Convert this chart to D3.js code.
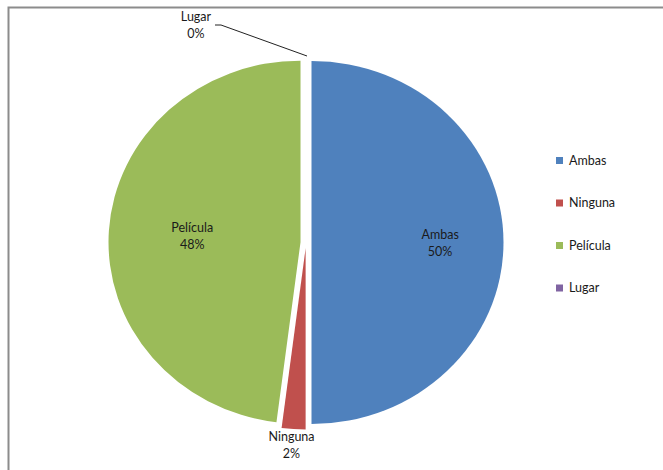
<!DOCTYPE html>
<html><head><meta charset="utf-8">
<script src="https://cdn.jsdelivr.net/npm/d3@7"></script>
<style>body{margin:0;background:#fff}svg{display:block}text{font-family:Lato,"Open Sans",sans-serif;fill:#1a1a1a}</style>
</head><body><svg id="c" width="663" height="470"></svg>
<script>
const categories = ["Ambas", "Ninguna", "Película", "Lugar"];
const values = [50, 2, 48, 0];
const colors = ["#4F81BD", "#C0504D", "#9BBB59", "#8064A2"];

const svg = d3.select("#c");
svg.append("rect").attr("x", 8.5).attr("y", 7.5).attr("width", 700).attr("height", 500)
  .attr("fill", "none").attr("stroke", "#8c8c8c").attr("stroke-width", 2);

const cx = 306, cy = 242.5, rx = 192, ry = 181.5, explode = 5.5;
const sx = rx / ry;
const fs = 12.5;
const data = categories.map((c, i) => ({cat: c, value: values[i], color: colors[i]}));
const pie = d3.pie().value(d => d.value).sort(null);
const arcs = pie(data);
const arc = d3.arc().innerRadius(0).outerRadius(ry);
const total = d3.sum(values);
const pct = v => Math.round(v / total * 100) + "%";

const g = svg.append("g");
arcs.forEach(a => {
  const mid = (a.startAngle + a.endAngle) / 2;
  const ox = Math.sin(mid) * explode, oy = -Math.cos(mid) * explode;
  a.ox = ox; a.oy = oy; a.mid = mid;
  if (a.endAngle - a.startAngle > 0) {
    g.append("path").attr("d", arc(a)).attr("fill", a.data.color)
      .attr("transform", `translate(${cx + ox},${cy + oy}) scale(${sx},1)`);
  }
});

const labelFactor = {"Ambas": 0.67, "Película": 0.565};
function label(x, y, a) {
  const t = svg.append("text").attr("text-anchor", "middle").attr("font-size", fs);
  t.append("tspan").attr("x", x).attr("y", y - 4).text(a.data.cat);
  t.append("tspan").attr("x", x).attr("y", y + 13).text(pct(a.data.value));
}
arcs.forEach(a => {
  const f = labelFactor[a.data.cat];
  if (f) {
    const x = cx + a.ox + Math.sin(a.mid) * ry * f * sx;
    const y = cy + a.oy - Math.cos(a.mid) * ry * f;
    label(x, y, a);
  } else if (a.data.value > 0) {
    const R = ry * 1.09;
    const x = cx + a.ox + Math.sin(a.mid) * R * sx;
    const y = cy + a.oy - Math.cos(a.mid) * R;
    label(x - 1, y, a);
  } else {
    // zero slice: leader line from pie edge to label
    const R = ry + 5;
    const ex = cx + Math.sin(a.mid) * R * sx + 1, ey = cy - Math.cos(a.mid) * R;
    const kx = ex - 86, ky = ey - 31;
    svg.append("polyline").attr("points", `${ex},${ey} ${kx},${ky} ${kx - 6},${ky}`)
      .attr("fill", "none").attr("stroke", "#222").attr("stroke-width", 1);
    label(kx - 25, ky + 0, a);
  }
});

const leg = svg.append("g").attr("transform", "translate(556,157)");
data.forEach((d, i) => {
  const row = leg.append("g").attr("transform", `translate(0,${i * 42.5})`);
  row.append("rect").attr("width", 7).attr("height", 7).attr("fill", d.color);
  row.append("text").attr("x", 13).attr("y", 7.5).attr("font-size", fs).text(d.cat);
});
</script></body></html>
